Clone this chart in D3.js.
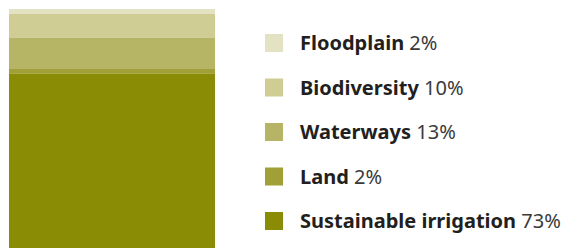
<!DOCTYPE html>
<html lang="en">
<head>
<meta charset="UTF-8"/>
<title>water use</title>
<script src="https://d3js.org/d3.v7.min.js"></script>
<style>
  body { margin: 0; background: #fff; }
  text { font-family: "Noto Sans", sans-serif; fill: #231f20; }
</style>
</head>
<body>
<div id="chart"></div>
<script>
// categories, top of the stack first
var categories = ["Floodplain", "Biodiversity", "Waterways", "Land", "Sustainable irrigation"]
var shares = [2, 10, 13, 2, 73]
var colours = ["#e3e3c4", "#cfcd94", "#b6b566", "#a0a037", "#8b8c05"]

var width = 568,
    height = 248

var svg = d3.select("#chart")
  .append("svg")
    .attr("width", width)
    .attr("height", height)

// stack from the top
var rows = []
var acc = 0
categories.forEach(function(c, i) {
  rows.push({ name: c, value: shares[i], y0: acc, y1: acc + shares[i], colour: colours[i] })
  acc += shares[i]
})

var y = d3.scaleLinear()
  .domain([0, 100])
  .range([9, 249])

var x = d3.scaleBand()
  .domain(["all"])
  .range([9, 215])

svg.selectAll("rect.seg")
  .data(rows)
  .enter()
  .append("rect")
    .attr("class", "seg")
    .attr("x", x("all"))
    .attr("width", x.bandwidth())
    .attr("y", function(d) { return y(d.y0) })
    .attr("height", function(d) { return y(d.y1) - y(d.y0) })
    .attr("fill", function(d) { return d.colour })

// legend
var ly = d3.scalePoint()
  .domain(categories)
  .range([34, 212])

var leg = svg.selectAll("g.leg")
  .data(rows)
  .enter()
  .append("g")
    .attr("class", "leg")
    .attr("transform", function(d) { return "translate(265," + ly(d.name) + ")" })

leg.append("rect")
  .attr("width", 18)
  .attr("height", 18)
  .attr("fill", function(d) { return d.colour })

var t = leg.append("text")
  .attr("x", 35)
  .attr("y", 16)
  .style("font-size", "20px")

t.append("tspan")
  .style("font-weight", "bold")
  .text(function(d) { return d.name })

t.append("tspan")
  .style("fill", "#3a3a3a")
  .text(function(d) { return " " + d.value + "%" })
</script>
</body>
</html>
